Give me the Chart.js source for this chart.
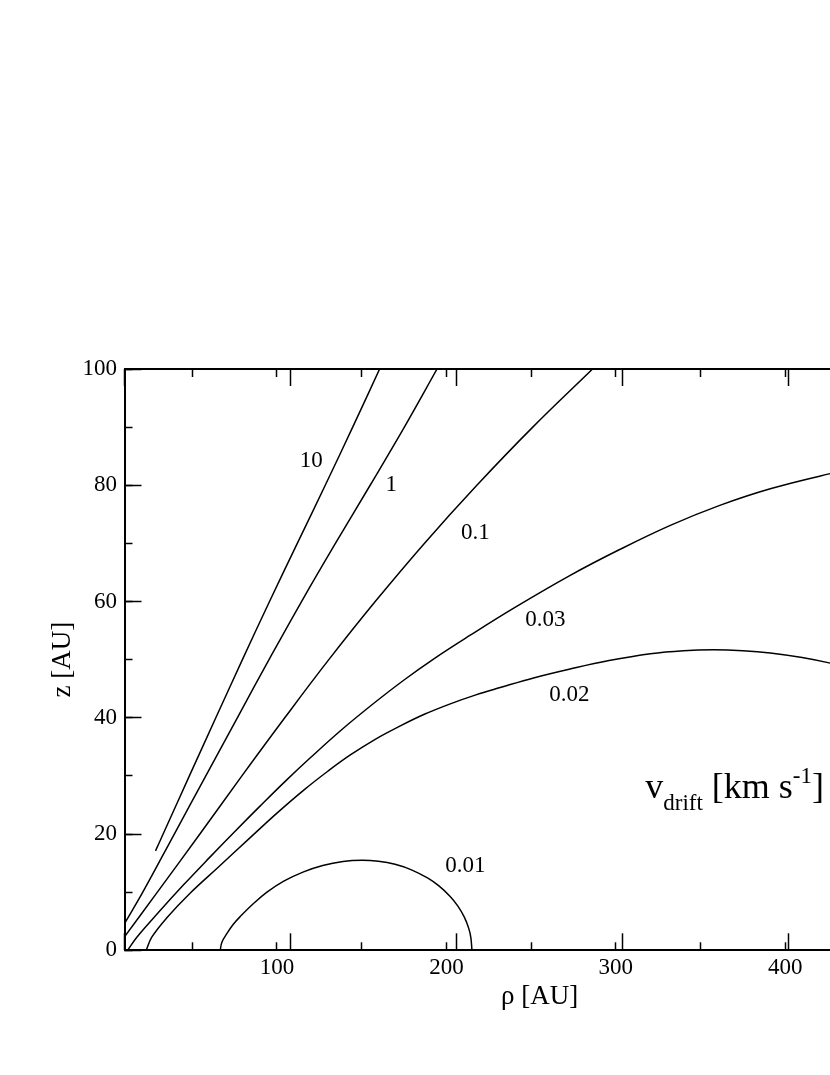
<!DOCTYPE html>
<html>
<head>
<meta charset="utf-8">
<script src="https://cdn.jsdelivr.net/npm/chart.js@4.4.1/dist/chart.umd.min.js"></script>
<style>
html,body{margin:0;padding:0;background:#fff;overflow:hidden;width:830px;height:1075px}
#wrap{position:absolute;left:0;top:0;width:1000px;height:1075px}
</style>
</head>
<body>
<div id="wrap"><canvas id="c"></canvas></div>
<script>
// contour levels (v_drift in km/s)
const contourLevels = ['10', '1', '0.1', '0.03', '0.02', '0.01'];

// contour v = 10
const rho_10 = [28.3, 32.8, 48.3, 63.9, 79.6, 95.6, 112.0, 128.5, 144.7, 160.6];
const z_10   = [17.1, 20, 30, 40, 50, 60, 70, 80, 90, 100];
// contour v = 1
const rho_1 = [10, 20.8, 39.4, 58.0, 76.6, 95.3, 114.5, 134.5, 155.0, 175.2, 194.5];
const z_1   = [4.6, 10, 20, 30, 40, 50, 60, 70, 80, 90, 100];
// contour v = 0.1
const rho_01 = [10, 29.4, 54.5, 79.3, 104.6, 130.6, 158.0, 187.0, 218.0, 251.0, 286.3];
const z_01   = [2.3, 10, 20, 30, 40, 50, 60, 70, 80, 90, 100];
// contour v = 0.03
const rho_003 = [11.8, 17.4, 30, 45, 60, 75, 90, 105, 120, 138, 157, 175, 192.4, 214.1, 240, 273.1, 302, 332.2, 361, 391.2, 426.6, 445];
const z_003   = [0, 2.3, 6.5, 11.3, 15.9, 20.4, 24.8, 29.1, 33.2, 37.9, 42.45, 46.5, 50.1, 54.2, 58.9, 64.5, 68.9, 73.1, 76.5, 79.4, 82.0, 83.1];
// contour v = 0.02
const rho_002 = [22.8, 26.2, 35, 49, 65, 85, 100, 116, 130, 143.3, 158, 172.8, 187, 202.3, 217, 231.8, 252, 273.1, 296, 320.4, 340, 357.7, 375, 391.2, 410, 426.6, 445];
const z_002   = [0, 2.3, 5.6, 9.9, 14.2, 19.6, 23.6, 27.6, 30.8, 33.6, 36.3, 38.6, 40.6, 42.4, 43.9, 45.2, 46.9, 48.4, 49.85, 51.03, 51.55, 51.7, 51.55, 51.16, 50.37, 49.4, 48.05];
// contour v = 0.01
const rho_001 = [66.5, 67.5, 70.5, 74, 78.3, 86, 94.1, 104, 115.7, 127, 139, 150.2, 159.9, 169.7, 179.4, 189.1, 195.6, 202.1, 206.7, 210.6, 213.2, 214.45, 215.1];
const z_001   = [0, 1.4, 2.9, 4.4, 5.8, 8.0, 10.0, 11.9, 13.5, 14.6, 15.29, 15.5, 15.32, 14.79, 13.84, 12.4, 11.07, 9.3, 7.64, 5.7, 3.77, 2.19, 0];

const rhoSeries = [rho_10, rho_1, rho_01, rho_003, rho_002, rho_001];
const zSeries   = [z_10, z_1, z_01, z_003, z_002, z_001];

// contour label anchor positions (data coords)
const labelRho = [120.2, 167.5, 217.1, 258.4, 272.6, 211.2];
const labelZ   = [84.2, 80.1, 71.8, 56.8, 43.9, 14.5];

// tick labels
const xTickLabels = [100, 200, 300, 400];
const yTickLabels = [0, 20, 40, 60, 80, 100];

const serif = "'Liberation Serif','Times New Roman',Times,serif";
const tickFont = {family: serif, size: 23};

function pts(rs, zs) { return rs.map((r, i) => ({x: r, y: zs[i]})); }

const datasets = contourLevels.map((lvl, i) => ({
  label: lvl,
  data: pts(rhoSeries[i], zSeries[i]),
  borderColor: '#000',
  borderWidth: 1.5,
  pointRadius: 0,
  fill: false,
  tension: 0.4,
  xAxisID: 'x',
  yAxisID: 'y'
}));

const labelPlugin = {
  id: 'contourLabels',
  afterDatasetsDraw(chart) {
    const {ctx, scales: {x, y}} = chart;
    ctx.save();
    ctx.fillStyle = '#000';
    ctx.font = `23px ${serif}`;
    ctx.textAlign = 'center';
    ctx.textBaseline = 'middle';
    contourLevels.forEach((t, i) => {
      ctx.fillText(t, x.getPixelForValue(labelRho[i]), y.getPixelForValue(labelZ[i]));
    });
    // v_drift [km s^-1]
    let px = x.getPixelForValue(317.4);
    const py = y.getPixelForValue(26.2);
    ctx.textAlign = 'left';
    ctx.textBaseline = 'alphabetic';
    const big = `36px ${serif}`, small = `23px ${serif}`;
    const segs = [['v', big, 0], ['drift', small, 12], [' [km s', big, 0], ['-1', small, -15], [']', big, 0]];
    for (const [t, f, dy] of segs) {
      ctx.font = f;
      ctx.fillText(t, px, py + dy);
      px += ctx.measureText(t).width;
    }
    ctx.restore();
  }
};

function frameAxis(position, step, len, weight, border) {
  const horiz = position === 'top' || position === 'bottom';
  return {
    type: 'linear',
    position: position,
    min: horiz ? 10 : 0,
    max: horiz ? 500 : 100,
    weight: weight,
    ticks: {display: false, stepSize: step, includeBounds: false, autoSkip: false},
    grid: {drawOnChartArea: false, drawTicks: true, tickLength: len, tickColor: '#000', tickWidth: 1.5},
    border: {display: border, color: '#000', width: 2},
    afterFit: s => { if (horiz) s.height = 0; else s.width = 0; }
  };
}

new Chart(document.getElementById('c'), {
  type: 'line',
  data: {datasets},
  options: {
    responsive: true,
    maintainAspectRatio: false,
    animation: false,
    events: [],
    layout: {padding: {top: 369, left: 0, right: 45.4, bottom: 44.7}},
    plugins: {legend: {display: false}, tooltip: {enabled: false}, title: {display: false}},
    scales: {
      x: {
        type: 'linear', position: 'bottom', min: 10, max: 500, weight: 1,
        ticks: {stepSize: 50, includeBounds: false, autoSkip: false, maxRotation: 0, padding: 11.5,
                color: '#000', font: tickFont,
                callback: v => xTickLabels.includes(v) ? String(v) : ''},
        grid: {drawOnChartArea: false, drawTicks: true, tickLength: -8, tickColor: '#000', tickWidth: 1.5},
        border: {display: true, color: '#000', width: 2},
        title: {display: true, text: 'ρ [AU]', color: '#000', font: {family: serif, size: 27},
                padding: {top: 0, bottom: 17}},
        afterFit: s => { s.height = 80; }
      },
      xMaj: frameAxis('bottom', 100, -17, 0, false),
      y: {
        type: 'linear', position: 'left', min: 0, max: 100, weight: 1,
        ticks: {stepSize: 10, autoSkip: false, padding: 15.5, color: '#000', font: tickFont,
                callback: v => yTickLabels.includes(v) ? String(v) : ''},
        grid: {drawOnChartArea: false, drawTicks: true, tickLength: -8, tickColor: '#000', tickWidth: 1.5},
        border: {display: true, color: '#000', width: 2},
        title: {display: true, text: 'z [AU]', color: '#000', font: {family: serif, size: 27},
                padding: {top: 46.3, bottom: 0}},
        afterFit: s => { s.width = 124.5; }
      },
      yMaj: frameAxis('left', 20, -17, 0, false),
      xTop: frameAxis('top', 50, -8, 1, true),
      xTopMaj: frameAxis('top', 100, -17, 0, false),
      yRight: frameAxis('right', 10, -8, 1, true),
      yRightMaj: frameAxis('right', 20, -17, 0, false)
    }
  },
  plugins: [labelPlugin]
});
</script>
</body>
</html>
